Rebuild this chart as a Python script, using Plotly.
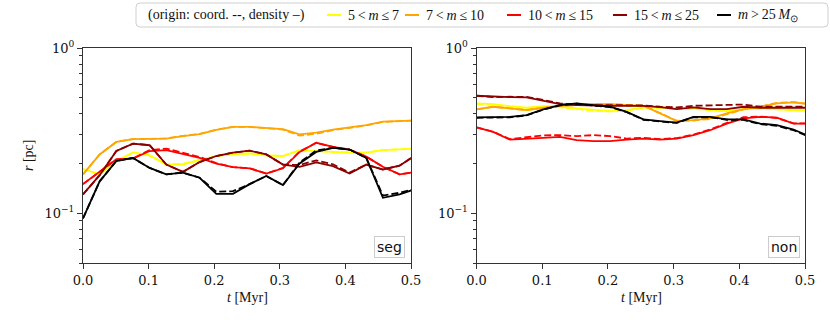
import plotly.graph_objects as go

# snapshot times [Myr]
t = [0.0, 0.0254, 0.0508, 0.0762, 0.1016, 0.127, 0.1524, 0.1778, 0.2032, 0.2286, 0.254,
     0.2794, 0.3048, 0.3302, 0.3556, 0.381, 0.4064, 0.4318, 0.4572, 0.4826, 0.508]

bins = ["5 < m ≤ 7", "7 < m ≤ 10", "10 < m ≤ 15", "15 < m ≤ 25", "m > 25"]
colors = ["#ffff00", "#ffa500", "#ff0000", "#8b0000", "#000000"]

# segregated run, density origin (solid)
seg_dens = [
    [0.185, 0.172, 0.207, 0.233, 0.224, 0.197, 0.198, 0.210, 0.222, 0.228, 0.230,
     0.224, 0.222, 0.241, 0.237, 0.235, 0.233, 0.233, 0.241, 0.244, 0.246],
    [0.172, 0.227, 0.270, 0.281, 0.282, 0.283, 0.293, 0.301, 0.320, 0.333, 0.333,
     0.329, 0.323, 0.300, 0.308, 0.321, 0.331, 0.341, 0.358, 0.363, 0.365],
    [0.150, 0.178, 0.212, 0.214, 0.238, 0.241, 0.227, 0.216, 0.200, 0.190, 0.187,
     0.174, 0.187, 0.235, 0.267, 0.252, 0.243, 0.220, 0.191, 0.172, 0.178],
    [0.130, 0.170, 0.238, 0.264, 0.258, 0.197, 0.178, 0.204, 0.222, 0.233, 0.239,
     0.227, 0.197, 0.191, 0.203, 0.193, 0.174, 0.197, 0.184, 0.194, 0.226],
    [0.093, 0.156, 0.207, 0.216, 0.188, 0.172, 0.176, 0.164, 0.131, 0.131, 0.150,
     0.168, 0.148, 0.200, 0.235, 0.249, 0.243, 0.216, 0.124, 0.130, 0.141],
]
# segregated run, coordinate origin (dashed)
seg_coord = [
    [0.185, 0.172, 0.207, 0.233, 0.224, 0.198, 0.199, 0.210, 0.222, 0.228, 0.230,
     0.224, 0.222, 0.240, 0.237, 0.235, 0.233, 0.233, 0.241, 0.244, 0.246],
    [0.172, 0.227, 0.270, 0.281, 0.282, 0.284, 0.294, 0.302, 0.320, 0.333, 0.333,
     0.328, 0.321, 0.295, 0.303, 0.318, 0.329, 0.340, 0.357, 0.363, 0.365],
    [0.150, 0.178, 0.212, 0.215, 0.241, 0.246, 0.232, 0.219, 0.201, 0.190, 0.187,
     0.174, 0.188, 0.236, 0.267, 0.252, 0.243, 0.220, 0.191, 0.172, 0.178],
    [0.130, 0.170, 0.238, 0.264, 0.258, 0.197, 0.178, 0.204, 0.222, 0.233, 0.239,
     0.227, 0.197, 0.196, 0.209, 0.198, 0.176, 0.197, 0.184, 0.194, 0.226],
    [0.093, 0.156, 0.207, 0.216, 0.188, 0.172, 0.176, 0.164, 0.135, 0.136, 0.150,
     0.168, 0.148, 0.203, 0.240, 0.249, 0.243, 0.216, 0.128, 0.133, 0.141],
]
# non-segregated run, density origin (solid)
non_dens = [
    [0.462, 0.458, 0.445, 0.435, 0.445, 0.441, 0.431, 0.421, 0.415, 0.421, 0.436,
     0.437, 0.431, 0.431, 0.421, 0.415, 0.427, 0.431, 0.427, 0.421, 0.417],
    [0.425, 0.441, 0.431, 0.421, 0.435, 0.447, 0.451, 0.458, 0.458, 0.451, 0.447,
     0.402, 0.361, 0.366, 0.375, 0.402, 0.427, 0.441, 0.462, 0.469, 0.456],
    [0.331, 0.311, 0.279, 0.281, 0.286, 0.290, 0.277, 0.273, 0.273, 0.279, 0.283,
     0.279, 0.283, 0.297, 0.318, 0.349, 0.375, 0.383, 0.379, 0.349, 0.349],
    [0.514, 0.507, 0.505, 0.503, 0.479, 0.458, 0.451, 0.447, 0.447, 0.447, 0.447,
     0.439, 0.427, 0.437, 0.427, 0.427, 0.441, 0.435, 0.435, 0.435, 0.435],
    [0.380, 0.380, 0.383, 0.393, 0.425, 0.451, 0.462, 0.451, 0.441, 0.411, 0.370,
     0.361, 0.354, 0.383, 0.383, 0.370, 0.370, 0.349, 0.341, 0.321, 0.290],
]
# non-segregated run, coordinate origin (dashed)
non_coord = [
    [0.460, 0.455, 0.441, 0.431, 0.441, 0.438, 0.428, 0.418, 0.413, 0.419, 0.434,
     0.435, 0.429, 0.429, 0.419, 0.413, 0.425, 0.429, 0.425, 0.419, 0.415],
    [0.425, 0.441, 0.431, 0.421, 0.435, 0.447, 0.451, 0.458, 0.458, 0.451, 0.447,
     0.404, 0.363, 0.364, 0.372, 0.398, 0.425, 0.443, 0.465, 0.471, 0.458],
    [0.331, 0.311, 0.281, 0.288, 0.296, 0.297, 0.293, 0.297, 0.293, 0.283, 0.286,
     0.281, 0.285, 0.299, 0.321, 0.352, 0.381, 0.385, 0.377, 0.350, 0.350],
    [0.514, 0.505, 0.507, 0.506, 0.485, 0.462, 0.455, 0.450, 0.451, 0.451, 0.449,
     0.441, 0.437, 0.447, 0.451, 0.451, 0.455, 0.441, 0.441, 0.441, 0.441],
    [0.378, 0.378, 0.381, 0.391, 0.423, 0.449, 0.460, 0.449, 0.439, 0.409, 0.368,
     0.359, 0.352, 0.381, 0.381, 0.368, 0.367, 0.346, 0.338, 0.318, 0.288],
]

panels = [("seg", seg_dens, seg_coord), ("non", non_dens, non_coord)]

W, H = 830, 322
def px(x):
    return x / W
def py(y):
    return 1 - y / H

fig = go.Figure()
for k, (tag, dens, coord) in enumerate(panels):
    xa = "x" if k == 0 else "x2"
    ya = "y" if k == 0 else "y2"
    for i in range(len(bins)):
        fig.add_trace(go.Scatter(x=t, y=coord[i], mode="lines", xaxis=xa, yaxis=ya,
                                 line=dict(color=colors[i], width=1.8, dash="7px,3px"),
                                 showlegend=False, hoverinfo="skip"))
        fig.add_trace(go.Scatter(x=t, y=dens[i], mode="lines", xaxis=xa, yaxis=ya,
                                 line=dict(color=colors[i], width=1.8),
                                 showlegend=False, hoverinfo="skip"))

axcol = "#333333"
tickfont = dict(family="DejaVu Serif", size=13, color="#111111")
xcommon = dict(range=[0, 0.5], tickvals=[0, 0.1, 0.2, 0.3, 0.4, 0.5], tickformat=".1f",
               ticks="outside", ticklen=5, tickcolor=axcol, showline=True, linecolor=axcol,
               linewidth=1, mirror=True, showgrid=False, zeroline=False, tickfont=tickfont,
               automargin=False)
ycommon = dict(type="log", range=[-1.30103, 0], tickvals=[0.1, 1],
               ticktext=["10<sup>−1</sup>", "10<sup>0</sup>"],
               ticks="outside", ticklen=5, tickcolor=axcol, showline=True, linecolor=axcol,
               linewidth=1, mirror=True, showgrid=False, zeroline=False, tickfont=tickfont,
               automargin=False,
               minor=dict(tickvals=[0.05, 0.06, 0.07, 0.08, 0.09, 0.2, 0.3, 0.4, 0.5,
                                    0.6, 0.7, 0.8, 0.9],
                          ticks="outside", ticklen=3, tickcolor=axcol, showgrid=False))

fig.update_layout(
    width=W, height=H, margin=dict(l=0, r=0, t=0, b=0, pad=0, autoexpand=False),
    template="none",
    paper_bgcolor="white", plot_bgcolor="white", showlegend=False,
    xaxis=dict(domain=[px(83), px(411)], anchor="y", **xcommon),
    yaxis=dict(domain=[py(263), py(48)], anchor="x", **ycommon),
    xaxis2=dict(domain=[px(476.5), px(805)], anchor="y2", **xcommon),
    yaxis2=dict(domain=[py(263), py(48)], anchor="x2", **ycommon),
)

serif = "Liberation Serif"
ann = []
# axis titles
ann.append(dict(text="<i>r</i> [pc]", x=px(28), y=py(155), xref="paper", yref="paper",
                xanchor="center", yanchor="middle", textangle=-90, showarrow=False,
                font=dict(family=serif, size=14, color="#111")))
for cx in (247, 641):
    ann.append(dict(text="<i>t</i> [Myr]", x=px(cx), y=py(297), xref="paper", yref="paper",
                    xanchor="center", yanchor="middle", showarrow=False,
                    font=dict(family=serif, size=14, color="#111")))
# panel tags
for k, (tag, _, _) in enumerate(panels):
    ann.append(dict(text=tag, x=px(405 if k == 0 else 799.5), y=py(258), xref="paper",
                    yref="paper", xanchor="right", yanchor="bottom", showarrow=False,
                    font=dict(family="DejaVu Sans", size=14, color="#111"),
                    bgcolor="white", bordercolor="#cccccc", borderwidth=1, borderpad=2))

# legend (drawn by hand to get short matplotlib-style handles)
lab_html = ["5\u2009<\u2009<i>m</i>\u2009≤\u20097", "7\u2009<\u2009<i>m</i>\u2009≤\u200910",
            "10\u2009<\u2009<i>m</i>\u2009≤\u200915", "15\u2009<\u2009<i>m</i>\u2009≤\u200925",
            "<i>m</i>\u2009>\u200925\u2009<i>M</i><sub>⊙</sub>"]
handle_x = [327, 405, 507, 613, 717]
ly = 15
ann.append(dict(text="(origin: coord. --, density –)", x=px(146), y=py(ly), xref="paper",
                yref="paper", xanchor="left", yanchor="middle", showarrow=False,
                font=dict(family=serif, size=14, color="#111")))
shapes = []
x0, x1, y0, y1, r = 136, 828, 3, 27, 4
path = (f"M {px(x0 + r)},{py(y0)} L {px(x1 - r)},{py(y0)} Q {px(x1)},{py(y0)} {px(x1)},{py(y0 + r)} "
        f"L {px(x1)},{py(y1 - r)} Q {px(x1)},{py(y1)} {px(x1 - r)},{py(y1)} "
        f"L {px(x0 + r)},{py(y1)} Q {px(x0)},{py(y1)} {px(x0)},{py(y1 - r)} "
        f"L {px(x0)},{py(y0 + r)} Q {px(x0)},{py(y0)} {px(x0 + r)},{py(y0)} Z")
shapes.append(dict(type="path", path=path, xref="paper", yref="paper",
                   line=dict(color="#d0d0d0", width=1), fillcolor="rgba(255,255,255,0.8)"))
for i in range(len(bins)):
    hx = handle_x[i]
    shapes.append(dict(type="line", x0=px(hx), x1=px(hx + 14), y0=py(ly), y1=py(ly),
                       xref="paper", yref="paper", line=dict(color=colors[i], width=2)))
    ann.append(dict(text=lab_html[i], x=px(hx + 19), y=py(ly), xref="paper", yref="paper",
                    xanchor="left", yanchor="middle", showarrow=False,
                    font=dict(family=serif, size=14, color="#111")))

fig.update_layout(annotations=ann, shapes=shapes)
fig.write_html("out.html", config={"displayModeBar": False},
               post_script="document.body.style.margin='0';")
